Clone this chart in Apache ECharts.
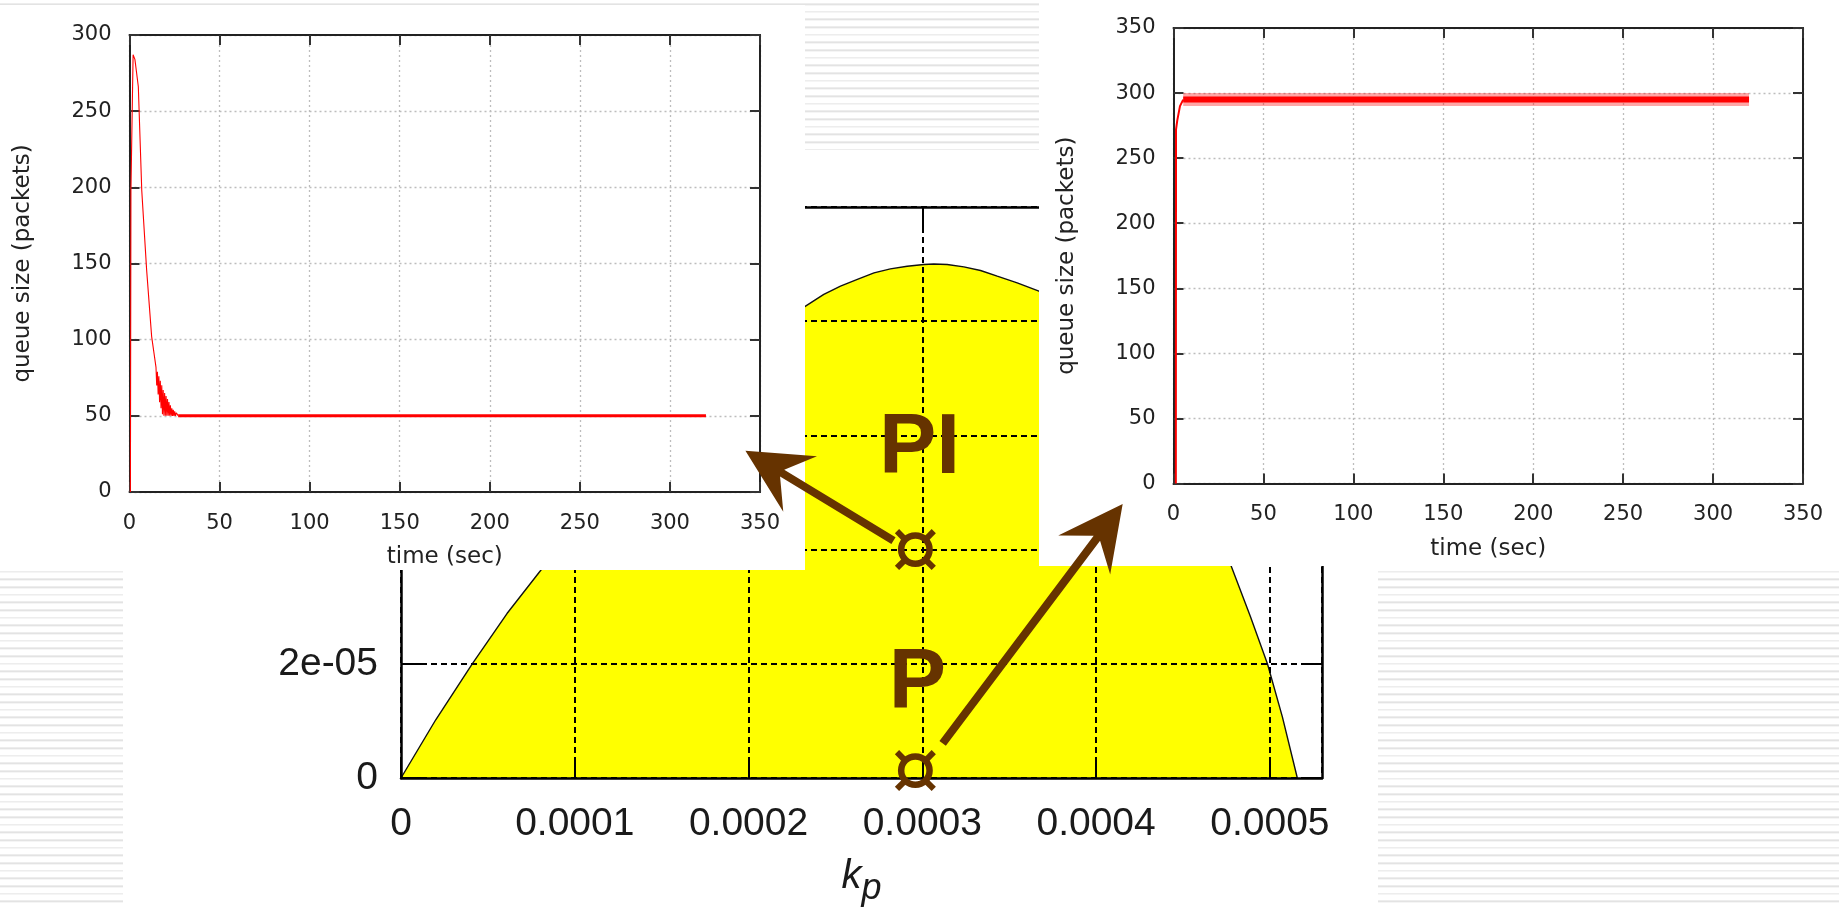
<!DOCTYPE html>
<html>
<head>
<meta charset="utf-8">
<title>PI stability region with queue traces</title>
<script src="https://cdn.jsdelivr.net/npm/echarts@6/dist/echarts.min.js"></script>
<style>
  html, body { margin: 0; padding: 0; background: #fff; }
  #chart {
    position: absolute; left: 0; top: 0; width: 1839px; height: 908px;
    background-color: #fff;
    background-image: repeating-linear-gradient(to bottom,
      rgba(0,0,0,0) 0px, rgba(0,0,0,0) 5.97px, #e3e3e3 5.97px, #e3e3e3 7.67px);
    background-position: 0 -2.67px;
  }
</style>
</head>
<body>
<div id="chart"></div>
<script>
// ---- stability region boundary (kp, ki) ----
const kpBoundary = [0, 0.2e-4, 0.41e-4, 0.61e-4, 0.8e-4, 1.2e-4, 1.6e-4, 2.0e-4, 2.328e-4, 2.433e-4,
  2.529e-4, 2.626e-4, 2.722e-4, 2.816e-4, 2.913e-4, 3.009e-4, 3.066e-4, 3.143e-4, 3.239e-4, 3.335e-4,
  3.431e-4, 3.546e-4, 3.671e-4, 3.9e-4, 4.2e-4, 4.5e-4, 4.774e-4, 4.889e-4, 4.986e-4, 5.072e-4, 5.158e-4];
const kiBoundary = [0, 1.02e-5, 2.0e-5, 2.88e-5, 3.62e-5, 5.2e-5, 6.55e-5, 7.6e-5, 8.264e-5, 8.469e-5,
  8.614e-5, 8.731e-5, 8.846e-5, 8.916e-5, 8.963e-5, 8.993e-5, 9.003e-5, 8.993e-5, 8.951e-5, 8.888e-5,
  8.788e-5, 8.671e-5, 8.526e-5, 8.1e-5, 7.1e-5, 5.55e-5, 3.74e-5, 2.82e-5, 2.0e-5, 1.07e-5, 0];

const kpTickLabels = ['0', '0.0001', '0.0002', '0.0003', '0.0004', '0.0005'];
const kiTickLabels = ['0', '2e-05', '4e-05', '6e-05', '8e-05', '0.0001'];

// operating points and their tags
const operatingPoints = [[0.000296, 0.00004], [0.000296, 0.0000013]];
const pointTags = ['PI', 'P'];
const tagAnchors = [[0.0002984, 0.00005764], [0.0002972, 0.00001647]];

// arrows from each operating point toward its queue trace
const arrowTails = [[0.0002834, 0.00004156], [0.0003117, 0.00000607]];
const arrowTips  = [[0.0001982, 0.0000573], [0.0004153, 0.000048]];

// ---- queue traces ----
const timeTickLabels = ['0', '50', '100', '150', '200', '250', '300', '350'];
const queueTickLabels = ['0', '50', '100', '150', '200', '250', '300', '350'];

// PI controller: overshoot then settles at the 50-packet reference
const piTransient = [[0.5, 0], [0.8, 198], [2, 287], [3, 284], [4.9, 266], [6.8, 198], [9.5, 146],
  [12.3, 102], [14.7, 82], [15.1, 70], [15.5, 79], [15.9, 64], [16.3, 76], [16.7, 59], [17.1, 73],
  [17.5, 55], [17.9, 70], [18.3, 51], [18.7, 67], [19.1, 50], [19.5, 65], [19.9, 50], [20.3, 63],
  [20.7, 50], [21.1, 61], [21.5, 50], [21.9, 59], [22.3, 50], [22.7, 57], [23.1, 50], [23.5, 55],
  [23.9, 50], [24.3, 54], [24.7, 50], [25.1, 53], [25.5, 50], [26, 52], [27, 50]];
const piSteady = [[27, 50], [320, 50]];

// P controller: rises fast and stays near 295 packets
const pRise = [[1.3, 0], [1.4, 272], [2.1, 279], [3.6, 290], [5.4, 295]];
const pSteady = [[5.4, 295], [320, 295]];

const BROWN = '#663300';
const MAIN_FONT = 'Liberation Sans';
const INSET_FONT = 'DejaVu Sans';

const chart = echarts.init(document.getElementById('chart'), null, { renderer: 'canvas' });

function mainAxisCommon() {
  return {
    type: 'value', gridIndex: 0, z: 3,
    axisLine: { show: true, onZero: false, lineStyle: { color: '#000', width: 2.5 } },
    axisTick: { show: true, inside: true, length: 20, lineStyle: { color: '#000', width: 2 } }
  };
}

function insetX(gridIndex, pos, withLabels) {
  return {
    type: 'value', gridIndex, position: pos, min: 0, max: 350, interval: 50, z: 6,
    axisLine: { show: true, onZero: false, lineStyle: { color: '#222', width: 2 } },
    axisTick: { show: true, inside: true, length: 10, lineStyle: { color: '#333', width: 2 } },
    axisLabel: withLabels ? {
      show: true, margin: 21, fontFamily: INSET_FONT, fontSize: 21, color: '#222',
      formatter: v => timeTickLabels[Math.round(v / 50)]
    } : { show: false },
    splitLine: withLabels ? { show: true, lineStyle: { color: '#bdbdbd', width: 1.3, type: [2, 3] } } : { show: false },
    name: withLabels ? 'time (sec)' : '',
    nameLocation: 'middle', nameGap: 54,
    nameTextStyle: { fontFamily: INSET_FONT, fontSize: 23, color: '#222' }
  };
}

function insetY(gridIndex, pos, maxVal, withLabels) {
  return {
    type: 'value', gridIndex, position: pos, min: 0, max: maxVal, interval: 50, z: 6,
    axisLine: { show: true, onZero: false, lineStyle: { color: '#222', width: 2 } },
    axisTick: { show: true, inside: true, length: 10, lineStyle: { color: '#333', width: 2 } },
    axisLabel: withLabels ? {
      show: true, margin: 18, fontFamily: INSET_FONT, fontSize: 21, color: '#222',
      formatter: v => queueTickLabels[Math.round(v / 50)]
    } : { show: false },
    splitLine: withLabels ? { show: true, lineStyle: { color: '#bdbdbd', width: 1.3, type: [2, 3] } } : { show: false },
    name: withLabels ? 'queue size (packets)' : '',
    nameLocation: 'middle', nameGap: 95,
    nameTextStyle: { fontFamily: INSET_FONT, fontSize: 23, color: '#222' }
  };
}

function renderArrow(params, api) {
  const a = api.coord([api.value(0), api.value(1)]);
  const b = api.coord([api.value(2), api.value(3)]);
  const dx = b[0] - a[0], dy = b[1] - a[1];
  const L = Math.hypot(dx, dy);
  const ux = dx / L, uy = dy / L, nx = -uy, ny = ux;
  const headLen = 64, headHalf = 32.5, notch = 40, shaftHalf = 4;
  const joint = notch + (headLen - notch) * (shaftHalf / headHalf);
  const P = (t, s) => [b[0] - ux * t + nx * s, b[1] - uy * t + ny * s];
  const pts = [
    [a[0] + nx * shaftHalf, a[1] + ny * shaftHalf],
    P(joint, shaftHalf), P(headLen, headHalf), [b[0], b[1]],
    P(headLen, -headHalf), P(joint, -shaftHalf),
    [a[0] - nx * shaftHalf, a[1] - ny * shaftHalf]
  ];
  return { type: 'polygon', shape: { points: pts }, style: { fill: BROWN } };
}

function renderMarker(params, api) {
  const c = api.coord([api.value(0), api.value(1)]);
  const children = [{
    type: 'circle', shape: { cx: c[0], cy: c[1], r: 14.2 },
    style: { fill: 'none', stroke: BROWN, lineWidth: 6.5 }
  }];
  [45, 135, 225, 315].forEach(deg => {
    const r = deg * Math.PI / 180, ux = Math.cos(r), uy = Math.sin(r);
    children.push({
      type: 'line',
      shape: { x1: c[0] + ux * 16, y1: c[1] + uy * 16, x2: c[0] + ux * 26, y2: c[1] + uy * 26 },
      style: { stroke: BROWN, lineWidth: 6 }
    });
  });
  return { type: 'group', children };
}

function renderTag(params, api) {
  const c = api.coord([api.value(0), api.value(1)]);
  return {
    type: 'text', x: c[0], y: c[1],
    style: {
      text: pointTags[params.dataIndex],
      font: 'bold 86px "' + MAIN_FONT + '"',
      fill: BROWN, align: 'center', verticalAlign: 'middle'
    }
  };
}

const option = {
  animation: false,
  backgroundColor: 'transparent',
  graphic: {
    elements: [
      { type: 'rect', z: 0, silent: true, shape: { x: 123, y: 150, width: 1255, height: 758 }, style: { fill: '#fff' } },
      { type: 'rect', z: 5, silent: true, shape: { x: 0, y: 5, width: 805, height: 565 }, style: { fill: '#fff' } },
      { type: 'rect', z: 5, silent: true, shape: { x: 1039, y: 0, width: 800, height: 566 }, style: { fill: '#fff' } }
    ]
  },
  grid: [
    { left: 401, top: 207, width: 921, height: 571, show: false, outerBoundsMode: 'none' },
    { left: 129.5, top: 35, width: 630.5, height: 457, show: false, outerBoundsMode: 'none' },
    { left: 1173.5, top: 28, width: 629.5, height: 455.5, show: false, outerBoundsMode: 'none' }
  ],
  xAxis: [
    Object.assign(mainAxisCommon(), {
      position: 'bottom', min: 0, max: 0.00053, interval: 0.0001,
      axisLabel: {
        show: true, margin: 27, fontFamily: MAIN_FONT, fontSize: 39, color: '#1a1a1a',
        showMaxLabel: false,
        formatter: v => kpTickLabels[Math.round(v / 0.0001)]
      },
      splitLine: { show: true, lineStyle: { color: '#000', width: 2, type: [6, 4] } },
      name: '{k|k}{p|p}', nameLocation: 'middle', nameGap: 79,
      nameTextStyle: {
        rich: {
          k: { fontFamily: MAIN_FONT, fontStyle: 'italic', fontSize: 40, color: '#1a1a1a', lineHeight: 50, verticalAlign: 'top' },
          p: { fontFamily: MAIN_FONT, fontStyle: 'italic', fontSize: 36, color: '#1a1a1a', lineHeight: 40, verticalAlign: 'bottom' }
        }
      }
    }),
    Object.assign(mainAxisCommon(), {
      position: 'top', min: 0, max: 0.00053, interval: 0.0001,
      axisLabel: { show: false }, splitLine: { show: false }
    }),
    insetX(1, 'bottom', true),
    insetX(1, 'top', false),
    insetX(2, 'bottom', true),
    insetX(2, 'top', false)
  ],
  yAxis: [
    Object.assign(mainAxisCommon(), {
      position: 'left', min: 0, max: 0.0001, interval: 0.00002,
      axisLabel: {
        show: true, margin: 23, fontFamily: MAIN_FONT, fontSize: 39, color: '#1a1a1a',
        formatter: v => kiTickLabels[Math.round(v / 0.00002)]
      },
      splitLine: { show: true, lineStyle: { color: '#000', width: 2, type: [6, 4] } }
    }),
    Object.assign(mainAxisCommon(), {
      position: 'right', min: 0, max: 0.0001, interval: 0.00002,
      axisLabel: { show: false }, splitLine: { show: false }
    }),
    insetY(1, 'left', 300, true),
    insetY(1, 'right', 300, false),
    insetY(2, 'left', 350, true),
    insetY(2, 'right', 350, false)
  ],
  series: [
    {
      name: 'stable region', type: 'line', xAxisIndex: 0, yAxisIndex: 0, z: 2,
      data: kpBoundary.map((kp, i) => [kp, kiBoundary[i]]),
      showSymbol: false, symbol: 'none', smooth: false,
      lineStyle: { color: '#111', width: 1.4 },
      areaStyle: { color: '#ffff00', opacity: 1, origin: 'start' }
    },
    {
      name: 'PI transient', type: 'line', xAxisIndex: 2, yAxisIndex: 2, z: 7,
      data: piTransient, showSymbol: false, symbol: 'none',
      lineStyle: { color: '#ff0000', width: 1.1 }
    },
    {
      name: 'PI steady', type: 'line', xAxisIndex: 2, yAxisIndex: 2, z: 7,
      data: piSteady, showSymbol: false, symbol: 'none',
      lineStyle: { color: '#ff0000', width: 3 }
    },
    {
      name: 'P rise', type: 'line', xAxisIndex: 4, yAxisIndex: 4, z: 7,
      data: pRise, showSymbol: false, symbol: 'none',
      lineStyle: { color: '#ff0000', width: 2 }
    },
    {
      // soft outer fringe of the noisy steady band
      name: 'P steady fringe', type: 'line', xAxisIndex: 4, yAxisIndex: 4, z: 7,
      data: pSteady, showSymbol: false, symbol: 'none',
      lineStyle: { color: 'rgba(255,0,0,0.35)', width: 13 }
    },
    {
      name: 'P steady', type: 'line', xAxisIndex: 4, yAxisIndex: 4, z: 7,
      data: pSteady, showSymbol: false, symbol: 'none',
      lineStyle: { color: '#ff0000', width: 6 }
    },
    {
      name: 'arrows', type: 'custom', xAxisIndex: 0, yAxisIndex: 0, z: 10, silent: true,
      encode: { x: [0, 2], y: [1, 3] },
      data: arrowTails.map((t, i) => [t[0], t[1], arrowTips[i][0], arrowTips[i][1]]),
      renderItem: renderArrow
    },
    {
      name: 'operating points', type: 'custom', xAxisIndex: 0, yAxisIndex: 0, z: 11, silent: true,
      encode: { x: 0, y: 1 },
      data: operatingPoints,
      renderItem: renderMarker
    },
    {
      name: 'tags', type: 'custom', xAxisIndex: 0, yAxisIndex: 0, z: 11, silent: true,
      encode: { x: 0, y: 1 },
      data: tagAnchors,
      renderItem: renderTag
    }
  ]
};

chart.setOption(option);
</script>
</body>
</html>
